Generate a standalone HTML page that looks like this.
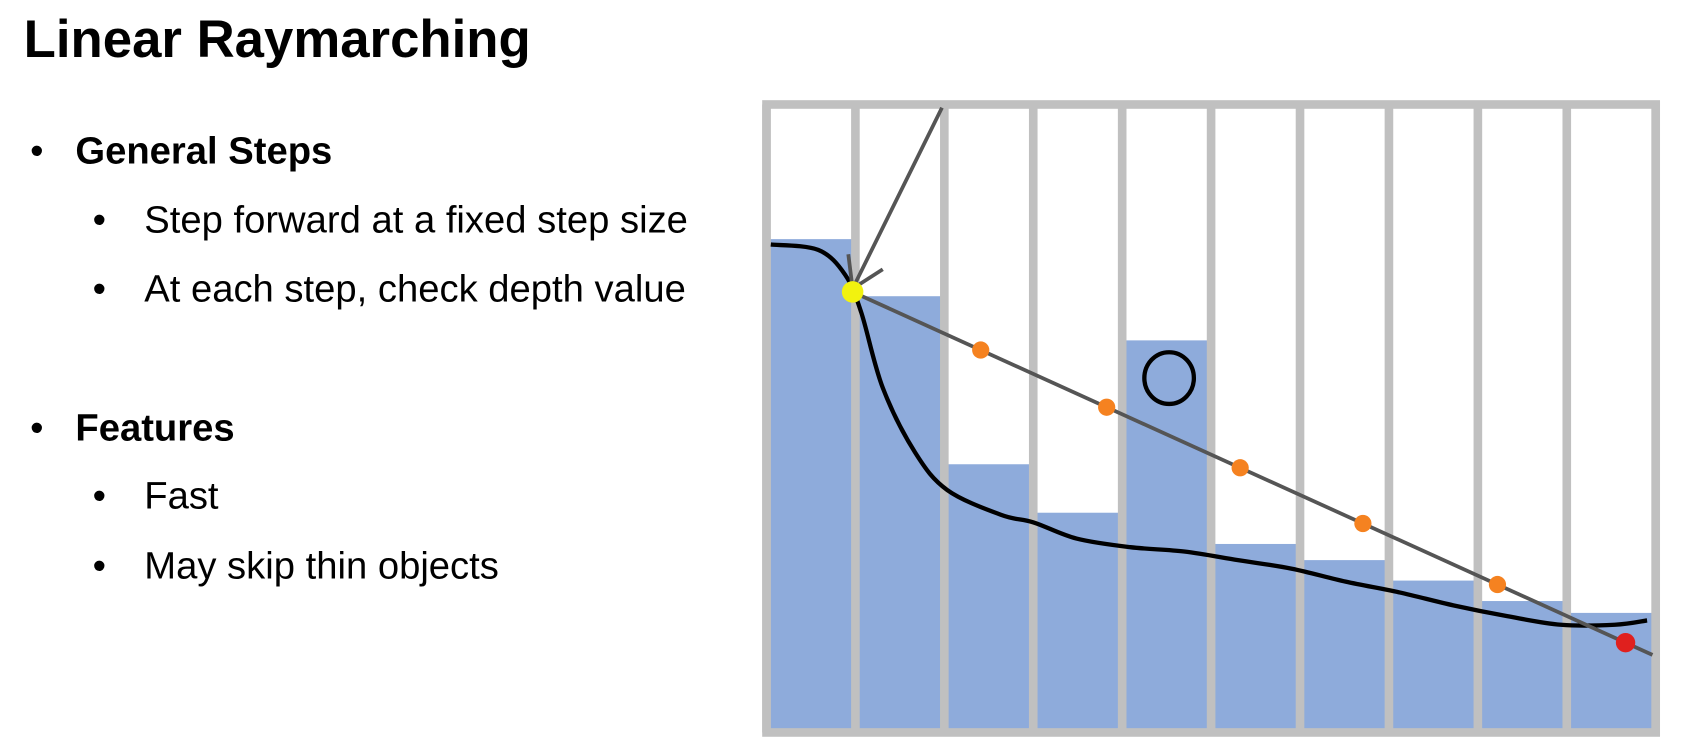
<!DOCTYPE html>
<html><head><meta charset="utf-8"><style>html,body{margin:0;padding:0;background:#fff;overflow:hidden}svg{display:block}</style></head>
<body>
<svg width="1688" height="754" viewBox="0 0 1568 700" preserveAspectRatio="none" xmlns="http://www.w3.org/2000/svg" font-family="Liberation Sans, Arial, sans-serif">
<text x="22" y="53" font-size="49" font-weight="bold" fill="#000">Linear Raymarching</text>
<g font-size="35.5" fill="#000">
<text x="28" y="152">•</text><text x="70" y="152" font-weight="bold">General Steps</text>
<text x="86" y="216">•</text><text x="134" y="216">Step forward at a fixed step size</text>
<text x="86" y="280">•</text><text x="134" y="280">At each step, check depth value</text>
<text x="28" y="409">•</text><text x="70" y="409" font-weight="bold">Features</text>
<text x="86" y="472">•</text><text x="134" y="472">Fast</text>
<text x="86" y="537">•</text><text x="134" y="537">May skip thin objects</text>
</g>
<g id="chart"></g>
</svg>
<script>
const depthTops=[222,275,431,476,316,505,520,539,558,569];
const curveX=[716,760,785,800,820,850,880,930,960,1000,1050,1100,1150,1200,1250,1300,1350,1400,1450,1500,1530];
const curveY=[227,232,255,290,360,420,455,478,485,500,508,512,520,528,540,550,562,572,580,580,576];
const stepX=[911,1028,1152,1266,1391];
const NS='http://www.w3.org/2000/svg';
const g=document.getElementById('chart');
const L=712,R=1538,T=97,B=680,n=depthTops.length,w=(R-L)/n;
function mk(t,a){const e=document.createElementNS(NS,t);for(const k in a)e.setAttribute(k,a[k]);g.appendChild(e);return e;}
const bg=mk('rect',{x:L,y:T,width:R-L,height:B-T,fill:'#fff'});


depthTops.forEach((t,i)=>{const r=mk('rect',{x:L+i*w,y:t,width:w,height:B-t,fill:'#8eabdb'});

});
for(let i=0;i<=n;i++){const l=mk('line',{x1:L+i*w,y1:T,x2:L+i*w,y2:B,stroke:'#c0c0c0','stroke-width':8});

}
const fr=mk('rect',{x:L,y:T,width:R-L,height:B-T,fill:'none',stroke:'#c0c0c0','stroke-width':8});


let d='M'+curveX[0]+' '+curveY[0];
for(let i=0;i<curveX.length-1;i++){
 const x0=curveX[Math.max(i-1,0)],y0=curveY[Math.max(i-1,0)],x1=curveX[i],y1=curveY[i],x2=curveX[i+1],y2=curveY[i+1],x3=curveX[Math.min(i+2,curveX.length-1)],y3=curveY[Math.min(i+2,curveX.length-1)];
 d+=' C'+(x1+(x2-x0)/6)+' '+(y1+(y2-y0)/6)+' '+(x2-(x3-x1)/6)+' '+(y2-(y3-y1)/6)+' '+x2+' '+y2;
}
const c=mk('path',{d:d,fill:'none',stroke:'#000','stroke-width':4,'stroke-linejoin':'round'});


const sx=792,sy=271,ex=1535,ey=608;
const ray=mk('line',{x1:sx,y1:sy,x2:ex,y2:ey,stroke:'#555','stroke-width':3.5});


const inc=mk('path',{d:'M875 100 L792 268 M788 236 L792 268 L820 250',fill:'none',stroke:'#555','stroke-width':3.5});


stepX.forEach(x=>{const y=sy+(ey-sy)*(x-sx)/(ex-sx);const p=mk('circle',{cx:x,cy:y,r:8,fill:'#f58220'});

});
const hx=1510,hy=sy+(ey-sy)*(hx-sx)/(ex-sx);
const h=mk('circle',{cx:hx,cy:hy,r:9,fill:'#e0201e'});


const y0=mk('circle',{cx:sx,cy:sy,r:10,fill:'#f2f20f'});


const o=mk('ellipse',{cx:1086,cy:351,rx:23,ry:24,fill:'none',stroke:'#000','stroke-width':4});


</script>
</body></html>
